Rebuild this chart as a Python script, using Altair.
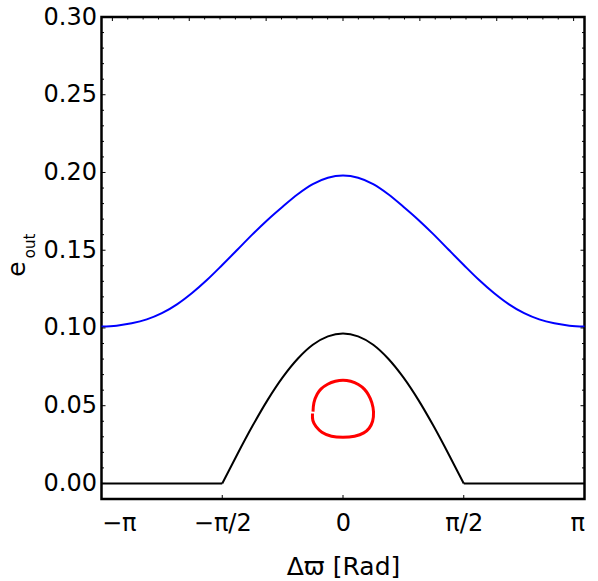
import altair as alt
import numpy as np
import pandas as pd

PI = np.pi

# x grid (Delta varpi) in steps of pi/16 from -pi to pi
x_grid = [i * PI / 16 for i in range(-16, 17)]

blue_e = [0.1010, 0.1015, 0.1030, 0.1055, 0.1095, 0.1152, 0.1225, 0.1310,
          0.1405, 0.1503, 0.1602, 0.1695, 0.1780, 0.1860, 0.1925, 0.1966,
          0.1980,
          0.1966, 0.1925, 0.1860, 0.1780, 0.1695, 0.1602, 0.1503, 0.1405,
          0.1310, 0.1225, 0.1152, 0.1095, 0.1055, 0.1030, 0.1015, 0.1010]

black_e = [0.0, 0.0, 0.0, 0.0, 0.0, 0.0, 0.0, 0.0,
           0.0, 0.0188, 0.0369, 0.0536, 0.0682, 0.0802, 0.0892, 0.0946,
           0.0965,
           0.0946, 0.0892, 0.0802, 0.0682, 0.0536, 0.0369, 0.0188, 0.0,
           0.0, 0.0, 0.0, 0.0, 0.0, 0.0, 0.0, 0.0]

red_dw = [-0.390, -0.378, -0.335, -0.285, -0.200, -0.100, 0.000, 0.100, 0.200,
          0.280, 0.330, 0.375, 0.397, 0.385, 0.340, 0.270, 0.150, 0.000,
          -0.150, -0.275, -0.350, -0.392, -0.397]
red_e = [0.0462, 0.0520, 0.0575, 0.0608, 0.0638, 0.0657, 0.0664, 0.0657, 0.0636,
         0.0605, 0.0570, 0.0520, 0.0460, 0.0400, 0.0355, 0.0325, 0.0304, 0.0297,
         0.0304, 0.0330, 0.0365, 0.0405, 0.0450]

x_tick_vals = [-PI, -PI / 2, 0, PI / 2, PI]
y_tick_vals = [0.0, 0.05, 0.10, 0.15, 0.20, 0.25, 0.30]
y_minor_vals = [round(v * 0.01, 2) for v in range(0, 31) if v % 5 != 0]
top_major_vals = [-3, -2, -1, 0, 1, 2, 3]
top_minor_vals = [round(v * 0.2, 1) for v in range(-15, 16) if v % 5 != 0]

W, H = 483, 482

blue_df = pd.DataFrame({"x": x_grid, "e": blue_e})
black_df = pd.DataFrame({"x": x_grid, "e": black_e})
hump_df = black_df.iloc[8:25]
flat_df = pd.concat([black_df.iloc[0:9].assign(seg="l"),
                     black_df.iloc[24:33].assign(seg="r")])
red_df = pd.DataFrame({"x": red_dw, "e": red_e, "o": list(range(len(red_e)))})

xs = alt.Scale(domain=[-PI, PI], nice=False, zero=False)
ys = alt.Scale(domain=[-0.01, 0.30], nice=False, zero=False)

label_expr = ("datum.value < -3 ? '\u2212\u03c0' : datum.value < -1 ? '\u2212\u03c0/2' : "
              "datum.value < 1 ? '0' : datum.value < 3 ? '\u03c0/2' : '\u03c0'")

x_axis = alt.Axis(values=x_tick_vals, labelExpr=label_expr, title="\u0394\u03d6 [Rad]",
                  labelPadding=12, titlePadding=19, titleFontSize=25)
y_axis = alt.Axis(values=y_tick_vals, format=".2f", title=None, labelPadding=5)


def X(f):
    return alt.X(f, scale=xs, axis=x_axis)


def Y(f):
    return alt.Y(f, scale=ys, axis=y_axis)


blue = alt.Chart(blue_df).mark_line(color="#0000ff", strokeWidth=2, interpolate="monotone").encode(
    x=X("x:Q"), y=Y("e:Q"))
hump = alt.Chart(hump_df).mark_line(color="black", strokeWidth=2, interpolate="monotone").encode(
    x=X("x:Q"), y=Y("e:Q"))
flat = alt.Chart(flat_df).mark_line(color="black", strokeWidth=2).encode(
    x=X("x:Q"), y=Y("e:Q"), detail="seg:N")
red = alt.Chart(red_df).mark_line(color="#ff0000", strokeWidth=3, interpolate="catmull-rom",
                                  strokeCap="butt").encode(
    x=X("x:Q"), y=Y("e:Q"), order="o:Q")


def yticks(vals, x0, x1):
    return alt.Chart(pd.DataFrame({"v": vals})).mark_rule(color="black", strokeWidth=1).encode(
        y=Y("v:Q"), x=alt.value(x0), x2=alt.value(x1))


def xticks(vals, y0, y1):
    return alt.Chart(pd.DataFrame({"v": vals})).mark_rule(color="black", strokeWidth=1).encode(
        x=X("v:Q"), y=alt.value(y0), y2=alt.value(y1))


ticks = [
    yticks(y_tick_vals, 0, 4), yticks(y_minor_vals, 0, 2.5),
    yticks(y_tick_vals, W - 4, W), yticks(y_minor_vals, W - 2.5, W),
    xticks(x_tick_vals, H - 4, H),
    xticks(top_major_vals, 0, 4), xticks(top_minor_vals, 0, 2.5),
]

e_txt = alt.Chart(pd.DataFrame({"t": ["e"]})).mark_text(
    font="DejaVu Sans", fontSize=25, angle=270, align="center", baseline="alphabetic", color="black"
).encode(text="t:N", x=alt.value(-76.5), y=alt.value(252))
out_txt = alt.Chart(pd.DataFrame({"t": ["out"]})).mark_text(
    font="DejaVu Sans", fontSize=15, angle=270, align="center", baseline="alphabetic", color="black"
).encode(text="t:N", x=alt.value(-66.5), y=alt.value(229))

chart = alt.layer(blue, hump, flat, red, *ticks, e_txt, out_txt).properties(
    width=W, height=H,
    autosize=alt.AutoSizeParams(type="none"),
    padding={"left": 101.5, "top": 17, "right": 13.5, "bottom": 82},
).configure_view(stroke="black", strokeWidth=2.5).configure_axis(
    labelFont="DejaVu Sans", labelFontSize=24, labelColor="black",
    titleFont="DejaVu Sans", titleFontSize=24, titleFontWeight="normal", titleColor="black",
    domain=False, ticks=False, grid=False,
)

chart.save("out.html", embed_options={"renderer": "svg", "actions": False})
